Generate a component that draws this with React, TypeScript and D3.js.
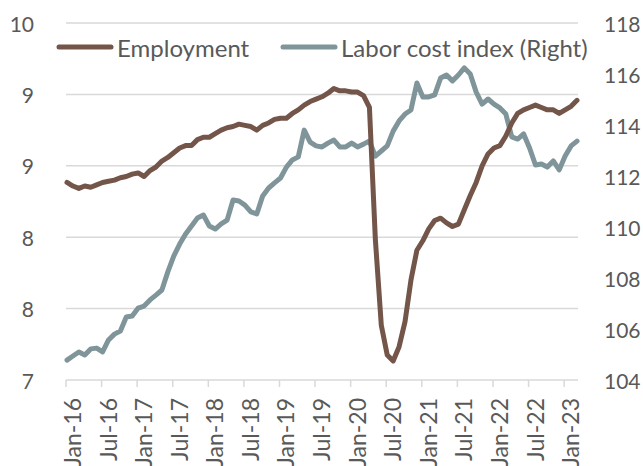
import React, { useEffect, useRef } from 'react';
import * as d3 from 'd3';

const W = 643;
const H = 466;

const plot = { left: 67, right: 577, top: 23, bottom: 380 };

// monthly, Jan-16 .. Mar-23
const employment = [
  8.66, 8.63, 8.61, 8.63, 8.62, 8.64, 8.66, 8.67, 8.68, 8.7, 8.71, 8.73,
  8.74, 8.71, 8.76, 8.79, 8.84, 8.87, 8.91, 8.95, 8.97, 8.97, 9.02, 9.04,
  9.04, 9.07, 9.1, 9.12, 9.13, 9.15, 9.14, 9.13, 9.1, 9.14, 9.16, 9.19,
  9.2, 9.2, 9.24, 9.27, 9.31, 9.34, 9.36, 9.38, 9.41, 9.45, 9.43, 9.43,
  9.42, 9.42, 9.39, 9.29, 8.18, 7.46, 7.21, 7.16, 7.28, 7.49, 7.84, 8.09,
  8.17, 8.27, 8.34, 8.36, 8.32, 8.29, 8.31, 8.43, 8.55, 8.66, 8.8, 8.9,
  8.95, 8.97, 9.05, 9.16, 9.24, 9.27, 9.29, 9.31, 9.29, 9.27, 9.27, 9.24,
  9.27, 9.3, 9.35,
];

const laborCost = [
  104.78, 104.94, 105.1, 104.98, 105.22, 105.25, 105.1, 105.57, 105.8, 105.92, 106.47, 106.51,
  106.82, 106.9, 107.14, 107.33, 107.53, 108.24, 108.86, 109.33, 109.73, 110.04, 110.35, 110.47,
  110.04, 109.92, 110.12, 110.27, 111.06, 111.02, 110.86, 110.59, 110.51, 111.22, 111.53, 111.73,
  111.92, 112.35, 112.63, 112.75, 113.8, 113.33, 113.18, 113.14, 113.29, 113.41, 113.14, 113.14,
  113.29, 113.14, 113.25, 113.37, 112.78, 112.98, 113.18, 113.76, 114.16, 114.43, 114.59, 115.65,
  115.1, 115.1, 115.18, 115.84, 115.96, 115.73, 115.96, 116.24, 116.0, 115.29, 114.82, 115.02,
  114.82, 114.67, 114.43, 113.53, 113.45, 113.65, 113.1, 112.43, 112.47, 112.35, 112.59, 112.24,
  112.78, 113.18, 113.37,
];

const xTickLabels = [
  'Jan-16', 'Jul-16', 'Jan-17', 'Jul-17', 'Jan-18', 'Jul-18', 'Jan-19', 'Jul-19',
  'Jan-20', 'Jul-20', 'Jan-21', 'Jul-21', 'Jan-22', 'Jul-22', 'Jan-23',
];

const leftTicks = [7, 7.6, 8.2, 8.8, 9.4, 10];
const rightTicks = [104, 106, 108, 110, 112, 114, 116, 118];

const seriesNames = ['Employment', 'Labor cost index (Right)'];

const brown = '#735549';
const grey = '#7f9599';
const textColor = '#595959';
const gridColor = '#d9d9d9';
const font = "Lato, 'Open Sans', sans-serif";

const App: React.FC = () => {
  const ref = useRef<SVGSVGElement>(null);

  useEffect(() => {
    if (ref.current) drawChart(ref.current);
  }, []);

  return (
    <svg
      ref={ref}
      width={W}
      height={H}
      style={{ position: 'absolute', left: 0, top: 0, background: '#fff' }}
    />
  );
};

const drawChart = (el: SVGSVGElement) => {
  const svg = d3.select(el);
  svg.selectAll('*').remove();

  const x = d3.scaleLinear().domain([0, employment.length - 1]).range([plot.left, plot.right]);
  const yLeft = d3.scaleLinear().domain([7, 10]).range([plot.bottom, plot.top]);
  const yRight = d3.scaleLinear().domain([104, 118]).range([plot.bottom, plot.top]);

  // gridlines
  svg
    .append('g')
    .selectAll('line')
    .data(leftTicks.slice(1))
    .enter()
    .append('line')
    .attr('x1', plot.left - 1)
    .attr('x2', plot.right + 1)
    .attr('y1', (d) => yLeft(d))
    .attr('y2', (d) => yLeft(d))
    .attr('stroke', gridColor)
    .attr('stroke-width', 1.5);

  // x axis line + ticks
  svg
    .append('line')
    .attr('x1', plot.left - 1)
    .attr('x2', plot.right + 1)
    .attr('y1', plot.bottom)
    .attr('y2', plot.bottom)
    .attr('stroke', gridColor)
    .attr('stroke-width', 1.5);

  const tickIdx = xTickLabels.map((_, i) => i * 6);
  svg
    .append('g')
    .selectAll('line')
    .data(tickIdx)
    .enter()
    .append('line')
    .attr('x1', (d) => x(d) - 1)
    .attr('x2', (d) => x(d) - 1)
    .attr('y1', plot.bottom)
    .attr('y2', plot.bottom + 7)
    .attr('stroke', gridColor)
    .attr('stroke-width', 1.5);

  svg
    .append('g')
    .selectAll('text')
    .data(xTickLabels)
    .enter()
    .append('text')
    .attr('transform', (_, i) => `translate(${x(i * 6) + 5}, ${plot.bottom + 18}) rotate(-90)`)
    .attr('text-anchor', 'end')
    .attr('dominant-baseline', 'central')
    .attr('fill', textColor)
    .style('font-family', font)
    .style('font-size', '23px')
    .text((d) => d);

  // left labels
  svg
    .append('g')
    .selectAll('text')
    .data(leftTicks)
    .enter()
    .append('text')
    .attr('x', 34)
    .attr('y', (d) => yLeft(d))
    .attr('text-anchor', 'end')
    .attr('dominant-baseline', 'central')
    .attr('fill', textColor)
    .style('font-family', font)
    .style('font-size', '21px')
    .text((d) => d3.format('.0f')(d));

  // right labels
  svg
    .append('g')
    .selectAll('text')
    .data(rightTicks)
    .enter()
    .append('text')
    .attr('x', 604)
    .attr('y', (d) => yRight(d))
    .attr('text-anchor', 'start')
    .attr('dominant-baseline', 'central')
    .attr('fill', textColor)
    .style('font-family', font)
    .style('font-size', '21px')
    .text((d) => d);

  const lineLeft = d3
    .line<number>()
    .x((_, i) => x(i))
    .y((d) => yLeft(d));
  const lineRight = d3
    .line<number>()
    .x((_, i) => x(i))
    .y((d) => yRight(d));

  svg
    .append('path')
    .datum(laborCost)
    .attr('d', lineRight)
    .attr('fill', 'none')
    .attr('stroke', grey)
    .attr('stroke-width', 5)
    .attr('stroke-linejoin', 'round')
    .attr('stroke-linecap', 'round');

  svg
    .append('path')
    .datum(employment)
    .attr('d', lineLeft)
    .attr('fill', 'none')
    .attr('stroke', brown)
    .attr('stroke-width', 5)
    .attr('stroke-linejoin', 'round')
    .attr('stroke-linecap', 'round');

  // legend
  const legend = [
    { name: seriesNames[0], color: brown, x0: 59, x1: 111, tx: 117 },
    { name: seriesNames[1], color: grey, x0: 283, x1: 335, tx: 341 },
  ];
  const lg = svg.append('g').selectAll('g').data(legend).enter().append('g');
  lg.append('line')
    .attr('x1', (d) => d.x0)
    .attr('x2', (d) => d.x1)
    .attr('y1', 47)
    .attr('y2', 47)
    .attr('stroke', (d) => d.color)
    .attr('stroke-width', 5)
    .attr('stroke-linecap', 'round');
  lg.append('text')
    .attr('x', (d) => d.tx)
    .attr('y', 47)
    .attr('dominant-baseline', 'central')
    .attr('fill', textColor)
    .style('font-family', font)
    .style('font-size', '24px')
    .text((d) => d.name);
};

export default App;
